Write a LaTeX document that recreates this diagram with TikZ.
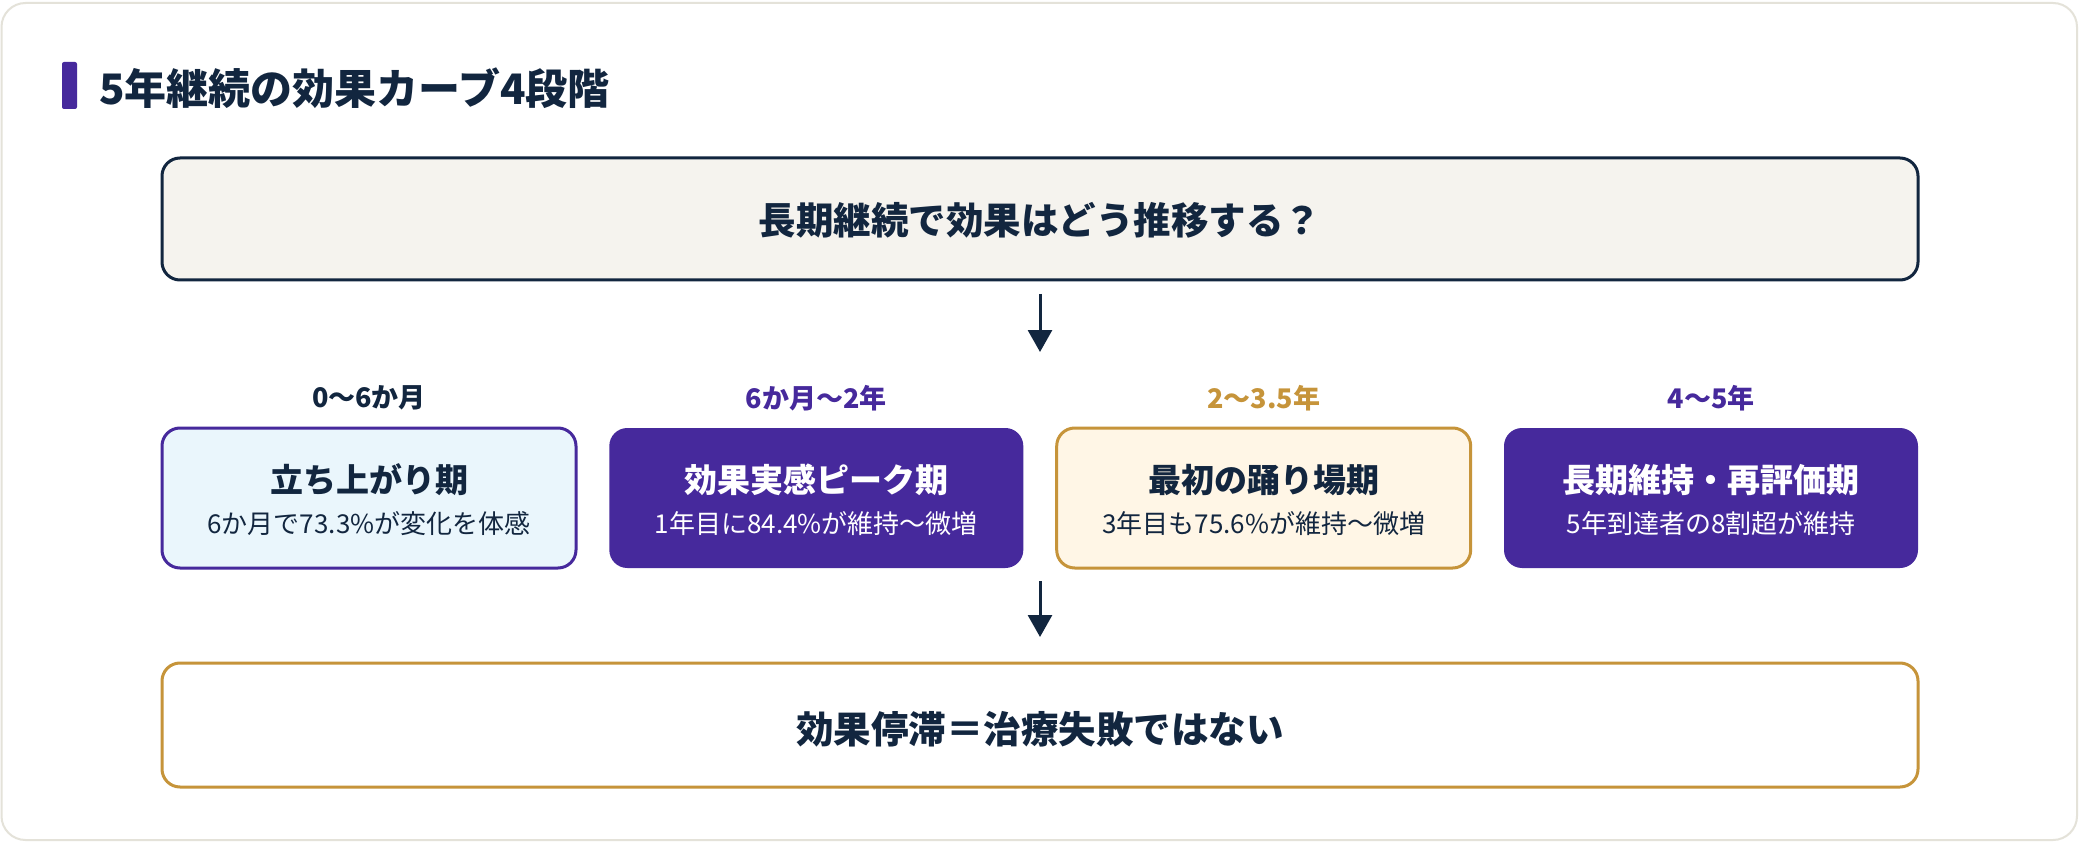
\documentclass[tikz,border=0pt]{standalone}
\usepackage{fontspec}
\setmainfont{Noto Sans CJK JP}
\usetikzlibrary{arrows.meta}
\definecolor{navy}{HTML}{12263F}
\definecolor{purp}{HTML}{46299C}
\definecolor{gold}{HTML}{C6943A}
\definecolor{cardline}{HTML}{E4E2D9}
\definecolor{topfill}{HTML}{F5F3EE}
\definecolor{bluefill}{HTML}{EAF6FC}
\definecolor{creamfill}{HTML}{FFF6E6}
\newcommand{\fs}[1]{\fontsize{#1}{#1}\selectfont}
\tikzset{
  bigbox/.style={draw, line width=3pt, rounded corners=18pt, minimum width=1756pt, inner sep=0pt, outer sep=0pt},
  stagebox/.style={line width=3pt, rounded corners=18pt, minimum width=414pt, minimum height=140pt, inner sep=0pt, outer sep=0pt},
  bigtext/.style={text=navy, font=\fs{37.5}\bfseries, inner sep=0pt},
  periodtext/.style={font=\fs{27}\bfseries, inner sep=0pt},
  stagetitle/.style={font=\fs{33}\bfseries, inner sep=0pt},
  stagesub/.style={font=\fs{26}, inner sep=0pt},
  flowarrow/.style={draw=navy, line width=3pt, -{Triangle[width=24pt,length=22pt]}}
}
\begin{document}
\begin{tikzpicture}[x=1pt,y=-1pt]
\useasboundingbox (0,0) rectangle (2080,842);
\fill[white] (0,0) rectangle (2080,842);
\draw[cardline, line width=2pt, fill=white, rounded corners=24pt] (1.5,3) rectangle (2077,840);
% title
\fill[purp, rounded corners=2pt] (62,62) rectangle (77,109);
\node[anchor=west, text=navy, font=\fs{42}\bfseries, inner sep=0pt] (title) at (99,88) {5年継続の効果カーブ4段階};
% top box
\node[bigbox, draw=navy, fill=topfill, minimum height=122pt] (top) at (1040,219) {};
\node[bigtext] (toptext) at (1040,220) {長期継続で効果はどう推移する？};
% stage boxes
\node[stagebox, draw=purp, fill=bluefill] (b1) at (369,498) {};
\node[stagebox, fill=purp] (b2) at (816.3,498) {};
\node[stagebox, draw=gold, fill=creamfill] (b3) at (1263.7,498) {};
\node[stagebox, fill=purp] (b4) at (1711,498) {};
% periods
\node[periodtext, text=navy] (p1) at (369,398) {0〜6か月};
\node[periodtext, text=purp] (p2) at (816.3,398) {6か月〜2年};
\node[periodtext, text=gold] (p3) at (1263.7,398) {2〜3.5年};
\node[periodtext, text=purp] (p4) at (1711,398) {4〜5年};
% stage texts
\node[stagetitle, text=navy] (t1) at ([yshift=18pt]b1.center) {立ち上がり期};
\node[stagesub, text=navy] (s1) at ([yshift=-26pt]b1.center) {6か月で73.3\%が変化を体感};
\node[stagetitle, text=white] (t2) at ([yshift=18pt]b2.center) {効果実感ピーク期};
\node[stagesub, text=white] (s2) at ([yshift=-26pt]b2.center) {1年目に84.4\%が維持〜微増};
\node[stagetitle, text=navy] (t3) at ([yshift=18pt]b3.center) {最初の踊り場期};
\node[stagesub, text=navy] (s3) at ([yshift=-26pt]b3.center) {3年目も75.6\%が維持〜微増};
\node[stagetitle, text=white] (t4) at ([yshift=18pt]b4.center) {長期維持・再評価期};
\node[stagesub, text=white] (s4) at ([yshift=-26pt]b4.center) {5年到達者の8割超が維持};
% bottom box
\node[bigbox, draw=gold, fill=white, minimum height=124pt] (bot) at (1040,725) {};
\node[bigtext] (bottext) at (1040,729) {効果停滞＝治療失敗ではない};
% arrows
\coordinate (a1end) at (1040,352);
\coordinate (a2start) at (1040,581);
\draw[flowarrow] ([yshift=-14pt]top.south) -- (a1end);
\draw[flowarrow] (a2start) -- ([yshift=26pt]bot.north);
\end{tikzpicture}
\end{document}
